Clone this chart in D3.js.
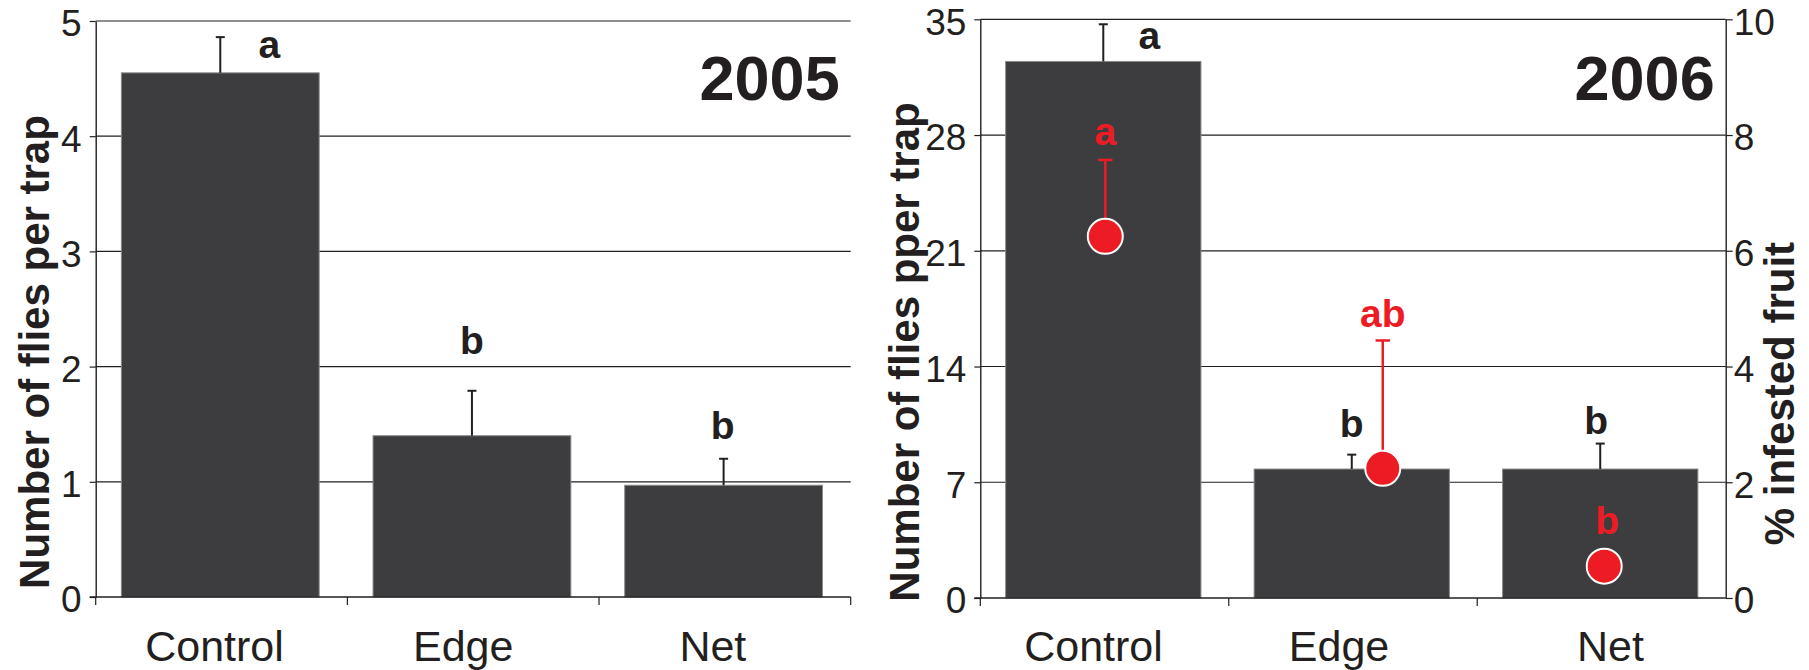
<!DOCTYPE html>
<html>
<head>
<meta charset="utf-8">
<script src="https://cdn.jsdelivr.net/npm/d3@7"></script>
<style>
  html, body { margin: 0; padding: 0; background: #fff; }
  svg { display: block; }
  text { font-family: "Liberation Sans", Arial, Helvetica, sans-serif; fill: #231f20; }
</style>
</head>
<body>
<svg id="chart" width="1809" height="670"></svg>
<script>
// ---- data ----
const categories = ["Control", "Edge", "Net"];

const flies2005 = [4.55, 1.40, 0.97];
const flies2005SE = [0.31, 0.39, 0.23];
const letters2005 = ["a", "b", "b"];

const flies2006 = [32.45, 7.80, 7.80];
const flies2006SE = [2.25, 0.87, 1.54];
const letters2006 = ["a", "b", "b"];

const infested2006 = [6.25, 2.24, 0.55];
const infested2006SE = [1.32, 2.21, 0];
const infestedLetters = ["a", "ab", "b"];

const ticks2005 = [0, 1, 2, 3, 4, 5];
const ticks2006 = [0, 7, 14, 21, 28, 35];
const ticksInfested = [0, 2, 4, 6, 8, 10];

// ---- styles ----
const INK = "#231f20";
const BAR_FILL = "#3d3d3f";
const BAR_EDGE = "#8a8a8a";
const RED = "#ed1c24";
const intFmt = d3.format("d");

const svg = d3.select("#chart");

function drawPanel(cfg) {
  const g = svg.append("g");
  const x = d3.scaleBand().domain(categories).range([cfg.x0, cfg.x1]).padding(0);
  const y = d3.scaleLinear().domain([0, d3.max(cfg.ticks)]).range([cfg.yBottom, cfg.yTop]);
  const bw = x.bandwidth();
  const barX = c => x(c) + bw * 0.102;
  const barW = bw * 0.786;
  const cx = c => barX(c) + barW / 2;

  // horizontal gridlines
  g.append("g").selectAll("line").data(cfg.ticks.filter(t => t > 0)).join("line")
    .attr("x1", cfg.x0).attr("x2", cfg.x1)
    .attr("y1", d => y(d)).attr("y2", d => y(d))
    .attr("stroke", INK).attr("stroke-width", 1.2);

  // bars
  const rows = categories.map((c, i) => ({ c, v: cfg.values[i], se: cfg.se[i], letter: cfg.letters[i], i }));
  g.append("g").selectAll("rect").data(rows).join("rect")
    .attr("x", d => barX(d.c)).attr("width", barW)
    .attr("y", d => y(d.v)).attr("height", d => y(0) - y(d.v))
    .attr("fill", BAR_FILL).attr("stroke", BAR_EDGE).attr("stroke-width", 1);

  // error bars (upper only)
  const eb = g.append("g").attr("stroke", INK).attr("stroke-width", 2);
  eb.selectAll("line.v").data(rows).join("line").attr("class", "v")
    .attr("x1", d => cx(d.c)).attr("x2", d => cx(d.c))
    .attr("y1", d => y(d.v)).attr("y2", d => y(d.v + d.se));
  eb.selectAll("line.cap").data(rows).join("line").attr("class", "cap")
    .attr("x1", d => cx(d.c) - 4.5).attr("x2", d => cx(d.c) + 4.5)
    .attr("y1", d => y(d.v + d.se)).attr("y2", d => y(d.v + d.se));

  // significance letters
  g.append("g").selectAll("text").data(rows).join("text")
    .attr("x", d => cx(d.c) + cfg.letterNudge[d.i][0])
    .attr("y", d => y(d.v + d.se) + cfg.letterNudge[d.i][1])
    .attr("text-anchor", "middle")
    .style("font-size", "39px").style("font-weight", "bold")
    .text(d => d.letter);

  // left y axis
  const ya = g.append("g").attr("transform", `translate(${cfg.x0},0)`)
    .call(d3.axisLeft(y).tickValues(cfg.ticks).tickFormat(intFmt)
      .tickSize(6).tickSizeOuter(0).tickPadding(8));
  ya.select(".domain").attr("stroke", INK).attr("stroke-width", 1.4);
  ya.selectAll(".tick line").attr("stroke", INK).attr("stroke-width", 1.2);
  ya.selectAll(".tick text").attr("dy", "0.4em")
    .style("font-size", "37px").style("font-family", "'Liberation Sans', Arial, sans-serif").attr("fill", INK);

  // x axis baseline with boundary ticks
  const xa = g.append("g").attr("stroke", INK);
  xa.append("line").attr("x1", cfg.x0 - 6).attr("x2", cfg.x1)
    .attr("y1", y(0)).attr("y2", y(0)).attr("stroke-width", 1.4);
  const bounds = categories.map(c => x(c)).concat(cfg.tickEnd ? [cfg.x1] : []);
  xa.selectAll("line.b").data(bounds).join("line").attr("class", "b")
    .attr("x1", d => d).attr("x2", d => d)
    .attr("y1", y(0)).attr("y2", y(0) + 8).attr("stroke-width", 1.2);

  // category labels
  g.append("g").selectAll("text").data(categories).join("text")
    .attr("x", (c, i) => x(c) + bw / 2 + cfg.catNudge[i][0])
    .attr("y", (c, i) => 661 + cfg.catNudge[i][1])
    .attr("text-anchor", "middle")
    .style("font-size", "43px")
    .text(c => c);

  // year tag
  g.append("text").attr("x", cfg.x1 - 11).attr("y", 100)
    .attr("text-anchor", "end")
    .style("font-size", "63px").style("font-weight", "bold")
    .text(cfg.year);

  // y title
  g.append("text")
    .attr("transform", `translate(${cfg.titleX},${352}) rotate(-90)`)
    .attr("text-anchor", "middle")
    .style("font-size", "42px").style("font-weight", "bold")
    .text(cfg.yTitle);

  return { x, y, cx, g };
}

// ---- 2005 ----
drawPanel({
  x0: 95.7, x1: 850.7, yTop: 21, yBottom: 597,
  ticks: ticks2005, values: flies2005, se: flies2005SE, letters: letters2005,
  letterNudge: [[49, 21], [0, -37], [-1, -20]],
  catNudge: [[-7, 0], [-10, 0], [-12, 0]],
  tickEnd: true,
  year: "2005",
  titleX: 49,
  yTitle: "Number of flies per trap"
});

// ---- 2006 ----
const p2 = drawPanel({
  x0: 980.3, x1: 1725.7, yTop: 19.3, yBottom: 598,
  ticks: ticks2006, values: flies2006, se: flies2006SE, letters: letters2006,
  letterNudge: [[46, 25], [0, -18], [-4, -10]],
  catNudge: [[-11, 0], [-14, 0], [9, 0]],
  tickEnd: false,
  year: "2006",
  titleX: 918.5,
  yTitle: "Number of flies pper trap"
});

// right axis: % infested fruit
const y2 = d3.scaleLinear().domain([0, 10]).range([598, 19.3]);
const ra = svg.append("g").attr("transform", "translate(1725.7,0)")
  .call(d3.axisRight(y2).tickValues(ticksInfested).tickFormat(intFmt)
    .tickSize(7).tickSizeOuter(0).tickPadding(1));
ra.select(".domain").attr("stroke", INK).attr("stroke-width", 1.4);
ra.selectAll(".tick line").attr("stroke", INK).attr("stroke-width", 1.2);
ra.selectAll(".tick text").attr("dy", "0.4em")
  .style("font-size", "37px").style("font-family", "'Liberation Sans', Arial, sans-serif").attr("fill", INK);

svg.append("text")
  .attr("transform", "translate(1794,393.6) rotate(-90)")
  .attr("text-anchor", "middle")
  .style("font-size", "42px").style("font-weight", "bold")
  .text("% infested fruit");

// infested-fruit means (red dots) with upper error bars
const dotShift = [2, 31, 4];
const dots = categories.map((c, i) => ({
  x: p2.cx(c) + dotShift[i], v: infested2006[i], se: infested2006SE[i], letter: infestedLetters[i], i
}));
const red = svg.append("g");
red.selectAll("line.v").data(dots.filter(d => d.se > 0)).join("line").attr("class", "v")
  .attr("x1", d => d.x).attr("x2", d => d.x)
  .attr("y1", d => y2(d.v)).attr("y2", d => y2(d.v + d.se))
  .attr("stroke", RED).attr("stroke-width", 2.5);
red.selectAll("line.cap").data(dots.filter(d => d.se > 0)).join("line").attr("class", "cap")
  .attr("x1", d => d.x - 7.2).attr("x2", d => d.x + 7.2)
  .attr("y1", d => y2(d.v + d.se)).attr("y2", d => y2(d.v + d.se))
  .attr("stroke", RED).attr("stroke-width", 2.5);
red.selectAll("circle").data(dots).join("circle")
  .attr("cx", d => d.x).attr("cy", d => y2(d.v)).attr("r", 17.5)
  .attr("fill", RED).attr("stroke", "#fff").attr("stroke-width", 2);
const redNudge = [[0, -15], [0, -13], [3, -32]];
red.selectAll("text").data(dots).join("text")
  .attr("x", d => d.x + redNudge[d.i][0])
  .attr("y", d => (d.se > 0 ? y2(d.v + d.se) : y2(d.v)) + redNudge[d.i][1])
  .attr("text-anchor", "middle")
  .style("font-size", "39px").style("font-weight", "bold").style("fill", RED)
  .text(d => d.letter);
</script>
</body>
</html>
